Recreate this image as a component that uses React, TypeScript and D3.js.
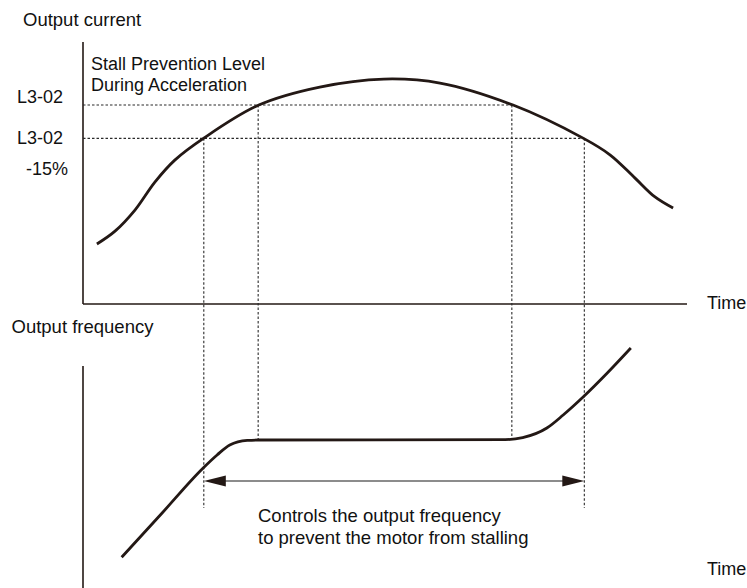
import React from "react";
import * as d3 from "d3";

// Time in % of displayed span
const currentTimes = [2.3, 5.3, 8.6, 11.9, 15.2, 20.0, 29.1, 39.2, 49.8, 59.1, 71.2, 82.8, 87.3, 91.4, 94.7, 97.7];
// Output current in % of L3-02
const currentValues = [37.4, 43.2, 52.7, 65.3, 75.2, 85.1, 100, 108.1, 111.7, 109.9, 100, 85.1, 77.5, 67.1, 58.6, 53.6];

const freqTimes = [6.4, 13.1, 19.9, 22.2, 24.3, 27.2, 29.1, 69.9, 72.8, 76.8, 79.5, 82.8, 86.8, 90.7];
// Output frequency (Hz)
const freqValues = [7.7, 18.75, 30, 33.25, 35.75, 36.9, 37, 37.1, 37.6, 40, 43.25, 47.75, 53.75, 60];

// Stall prevention levels (% of L3-02)
const levelNames = ["L3-02", "L3-02\n-15%"];
const levelValues = [100, 85];
// Time instants where current crosses the levels
const crossTimes = [20, 29, 71, 83];
const plateauFreq = 37;
const guideBottomFreq = 20;
const arrowFreq = 26.75;

const W = 747;
const H = 588;
const INK = "#231815";
const FONT = "'Liberation Sans', Arial, Helvetica, sans-serif";

export default function App() {
  const x = d3.scaleLinear().domain([0, 100]).range([83, 687]);
  const yCur = d3.scaleLinear().domain([10.4, 128.4]).range([304, 42]);
  const yFreq = d3.scaleLinear().domain([0, 60]).range([588, 348]);

  const curLine = d3
    .line<number>()
    .x((_, i) => x(currentTimes[i]))
    .y((d) => yCur(d))
    .curve(d3.curveCatmullRom.alpha(0.5));
  const freqLine = d3
    .line<number>()
    .x((_, i) => x(freqTimes[i]))
    .y((d) => yFreq(d))
    .curve(d3.curveMonotoneX);

  const [t1, t2, t3, t4] = crossTimes;
  const dash = "2.5,2";
  const dotStroke = "#2a2a2a";

  const ay = yFreq(arrowFreq);
  const ax1 = x(t1);
  const ax2 = x(t4);
  const ahL = 22;
  const ahH = 5.5;

  const textStyle = { fontFamily: FONT, fill: "#111" } as React.CSSProperties;

  return (
    <svg
      width={W}
      height={H}
      style={{ position: "absolute", left: 0, top: 0, background: "#fff" }}
    >
      {/* Top panel axes */}
      <line x1={x(0)} y1={42} x2={x(0)} y2={304} stroke={INK} strokeWidth={1.6} />
      <line x1={x(0)} y1={304} x2={x(100)} y2={304} stroke={INK} strokeWidth={1.6} />
      {/* Bottom panel axis */}
      <line x1={x(0)} y1={366} x2={x(0)} y2={H} stroke={INK} strokeWidth={1.6} />

      {/* Horizontal level guides */}
      <line x1={x(0)} x2={x(t3)} y1={yCur(levelValues[0])} y2={yCur(levelValues[0])} stroke={dotStroke} strokeWidth={1.1} strokeDasharray={dash} />
      <line x1={x(0)} x2={x(t4)} y1={yCur(levelValues[1])} y2={yCur(levelValues[1])} stroke={dotStroke} strokeWidth={1.1} strokeDasharray={dash} />

      {/* Vertical guides */}
      {[t1, t4].map((t, i) => (
        <line key={"o" + i} x1={x(t)} x2={x(t)} y1={yCur(levelValues[1])} y2={yFreq(guideBottomFreq)} stroke={dotStroke} strokeWidth={1.1} strokeDasharray={dash} />
      ))}
      {[t2, t3].map((t, i) => (
        <line key={"i" + i} x1={x(t)} x2={x(t)} y1={yCur(levelValues[0])} y2={yFreq(plateauFreq)} stroke={dotStroke} strokeWidth={1.1} strokeDasharray={dash} />
      ))}

      {/* Curves */}
      <path d={curLine(currentValues) || ""} fill="none" stroke={INK} strokeWidth={2.8} />
      <path d={freqLine(freqValues) || ""} fill="none" stroke={INK} strokeWidth={2.8} />

      {/* Double arrow */}
      <line x1={ax1 + ahL - 2} x2={ax2 - ahL + 2} y1={ay} y2={ay} stroke="#666" strokeWidth={1.6} />
      <path d={`M${ax1},${ay} L${ax1 + ahL},${ay - ahH} L${ax1 + ahL},${ay + ahH} Z`} fill={INK} />
      <path d={`M${ax2},${ay} L${ax2 - ahL},${ay - ahH} L${ax2 - ahL},${ay + ahH} Z`} fill={INK} />

      {/* Texts */}
      <text x={23} y={25.5} fontSize={18.5} style={textStyle}>Output current</text>
      <text x={91} y={70} fontSize={18} style={textStyle}>Stall Prevention Level</text>
      <text x={91} y={91} fontSize={18} style={textStyle}>During Acceleration</text>
      <text x={17} y={103} fontSize={18} style={textStyle}>{levelNames[0]}</text>
      <text x={17} y={144} fontSize={18} style={textStyle}>{levelNames[1].split("\n")[0]}</text>
      <text x={26} y={175} fontSize={18} style={textStyle}>{levelNames[1].split("\n")[1]}</text>
      <text x={707} y={309} fontSize={18} style={textStyle}>Time</text>
      <text x={11.5} y={333} fontSize={18.5} style={textStyle}>Output frequency</text>
      <text x={707} y={575} fontSize={18} style={textStyle}>Time</text>
      <text x={258} y={521.5} fontSize={18.5} style={textStyle}>Controls the output frequency</text>
      <text x={258} y={543.5} fontSize={18.5} style={textStyle}>to prevent the motor from stalling</text>
    </svg>
  );
}
